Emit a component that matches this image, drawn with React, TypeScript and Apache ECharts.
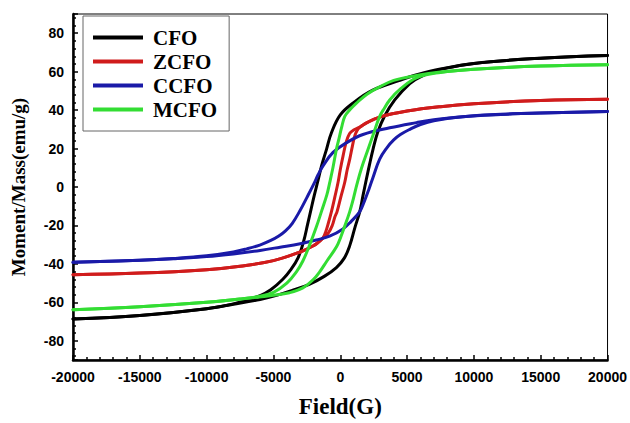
import React, { useEffect, useRef } from "react";
import * as echarts from "echarts";

const seriesNames = ["CFO", "ZCFO", "CCFO", "MCFO"];
const seriesColors = ["#000000", "#d01c1c", "#1a1aa8", "#33dd33"];

// Lower (ascending field) and upper (descending field) branches, [Field(G), Moment(emu/g)]
const cfoLower: [number, number][] = [
  [-20000, -68.7], [-15000, -66.8], [-10000, -63.3], [-8000, -61], [-6000, -58.5], [-4770, -56.4],
  [-3500, -53.5], [-2280, -50.5], [-1200, -46.5], [-290, -41.9], [300, -37], [710, -30.5], [1100, -21],
  [1460, -12.8], [1700, -4.5], [1960, 4.3], [2200, 12], [2450, 19.6], [2800, 28.5], [3300, 36.7],
  [4075, 45.3], [5200, 53.8], [6000, 57.3], [7500, 61.2], [10000, 64.3], [15000, 67], [20000, 68.4],
];
const cfoUpper: [number, number][] = [
  [20000, 68.4], [15000, 67], [10000, 64.3], [7500, 61.4], [5800, 58.5], [4450, 55.5], [2430, 50.4],
  [940, 43.6], [0, 37.5], [-660, 28.2], [-1030, 19.6], [-1400, 11], [-1680, 3], [-1950, -4.5],
  [-2200, -12], [-2450, -19.6], [-2750, -28.5], [-3150, -36.7], [-3700, -43], [-4300, -48],
  [-5200, -53.5], [-6000, -56.5], [-8000, -60.8], [-10000, -63.3], [-15000, -66.8], [-20000, -68.7],
];

const zcfoLower: [number, number][] = [
  [-20000, -45.6], [-15000, -44.8], [-10000, -43], [-7500, -41.2], [-5000, -38.3], [-3000, -33.8],
  [-2000, -30.5], [-1600, -28.5], [-1290, -26.5], [-900, -24], [-600, -20], [-400, -15.5],
  [-240, -12.8], [50, -5], [340, 2.6], [520, 9], [710, 14.5], [900, 21], [1080, 26.5], [1250, 29.3],
  [1460, 31], [2000, 33.5], [3000, 36.5], [5000, 39.5], [7500, 41.8], [10000, 43.3], [15000, 45],
  [20000, 45.6],
];
const zcfoUpper: [number, number][] = [
  [20000, 45.6], [15000, 45], [10000, 43.3], [7500, 41.8], [5000, 39.5], [3000, 36.5], [2000, 33.5],
  [1460, 31.2], [1000, 29.6], [700, 27.8], [450, 23.5], [210, 16.2], [0, 9], [-160, 2.6], [-400, -5],
  [-660, -12.8], [-900, -19], [-1100, -23.5], [-1290, -26.5], [-1600, -28.5], [-2000, -30.5],
  [-3000, -33.8], [-5000, -38.3], [-7500, -41.2], [-10000, -43], [-15000, -44.8], [-20000, -45.6],
];

const ccfoLower: [number, number][] = [
  [-20000, -39.2], [-15000, -38.1], [-12500, -37.3], [-10000, -36.2], [-8000, -34.8], [-6000, -33],
  [-4500, -31.3], [-3000, -29.5], [-1800, -27.6], [-800, -25.6], [200, -21.8], [800, -18],
  [1460, -12.8], [1800, -7.5], [2150, -1], [2450, 5], [2950, 14.5], [3500, 20.5], [4000, 24.5],
  [4500, 27.3], [5200, 30], [6000, 32.5], [7000, 34.5], [9160, 36.6], [12900, 38.1], [15000, 38.5],
  [20000, 39.3],
];
const ccfoUpper: [number, number][] = [
  [20000, 39.3], [15000, 38.5], [12900, 38.1], [9160, 36.6], [7000, 35], [5700, 33.5], [3700, 30.8],
  [1700, 27.3], [460, 23], [-540, 18], [-1290, 11], [-1650, 6.5], [-1950, 2], [-2500, -5.5],
  [-3030, -12.5], [-3600, -19], [-4100, -22.8], [-4600, -25.5], [-5200, -27.8], [-6020, -30.2],
  [-7000, -32.2], [-8000, -33.8], [-10000, -35.8], [-12500, -37.2], [-15000, -38.1], [-20000, -39.2],
];

const mcfoLower: [number, number][] = [
  [-20000, -63.8], [-15000, -62.3], [-10000, -60], [-7500, -58.3], [-5000, -56.3], [-3800, -55],
  [-2800, -52.5], [-2000, -48], [-1530, -44], [-1000, -38.5], [-500, -33.5], [-160, -29.5], [300, -21],
  [710, -12.8], [1000, -5.5], [1250, 1.5], [1600, 10], [2080, 19.6], [2500, 28], [2950, 36.7],
  [3300, 41], [3700, 45.3], [4500, 51], [5700, 56.8], [7500, 59.6], [10000, 61.3], [15000, 62.9],
  [20000, 63.6],
];
const mcfoUpper: [number, number][] = [
  [20000, 63.6], [15000, 62.9], [10000, 61.3], [7500, 59.8], [5700, 58], [4000, 55.5], [2950, 52.1],
  [2000, 48.3], [1210, 43.6], [700, 40], [340, 36.7], [100, 31], [-100, 25], [-290, 19.6],
  [-550, 10], [-800, 2], [-1000, -4], [-1410, -12.8], [-1800, -21], [-2280, -30], [-2800, -38.5],
  [-3270, -44], [-4000, -50], [-5000, -54.8], [-6000, -56.8], [-7500, -58.3], [-10000, -60],
  [-15000, -62.3], [-20000, -63.8],
];

const branches: [number, number][][][] = [
  [cfoLower, cfoUpper],
  [zcfoLower, zcfoUpper],
  [ccfoLower, ccfoUpper],
  [mcfoLower, mcfoUpper],
];

const serifFont = "'Liberation Serif', 'Times New Roman', serif";
const sansFont = "'Liberation Sans', Arial, sans-serif";

export default function App() {
  const ref = useRef<HTMLDivElement>(null);
  useEffect(() => {
    if (!ref.current) return;
    const chart = echarts.init(ref.current, null, { renderer: "svg" });
    const series: any[] = [];
    branches.forEach((pair, i) => {
      pair.forEach((data) => {
        series.push({
          type: "line",
          name: seriesNames[i],
          data,
          showSymbol: false,
          smooth: 0.4,
          lineStyle: { color: seriesColors[i], width: 3, cap: "round", join: "round" },
          itemStyle: { color: seriesColors[i] },
          z: 3,
        });
      });
    });
    chart.setOption({
      animation: false,
      backgroundColor: "#ffffff",
      grid: {
        left: 73,
        right: 22,
        top: 14,
        bottom: 58,
        show: true,
        borderColor: "#000",
        borderWidth: 1,
        containLabel: false,
      },
      legend: {
        data: seriesNames,
        orient: "vertical",
        left: 83,
        top: 16,
        padding: [11, 12, 11, 10],
        itemGap: 3,
        itemWidth: 50,
        itemHeight: 4,
        icon: "rect",
        borderColor: "#666",
        borderWidth: 1,
        backgroundColor: "#fff",
        textStyle: {
          fontFamily: serifFont,
          fontWeight: "bold",
          fontSize: 21,
          lineHeight: 20,
          color: "#000",
          padding: [0, 0, 0, 5],
        },
      },
      xAxis: {
        type: "value",
        min: -20000,
        max: 20000,
        interval: 5000,
        name: "Field(G)",
        nameLocation: "middle",
        nameGap: 35,
        nameTextStyle: { fontFamily: serifFont, fontWeight: "bold", fontSize: 23, color: "#000" },
        axisLine: { show: true, onZero: false, lineStyle: { color: "#000", width: 2.5 } },
        axisTick: { show: true, inside: true, length: 5, lineStyle: { color: "#000", width: 1.5 } },
        minorTick: { show: true, splitNumber: 5, length: 3, lineStyle: { color: "#000", width: 1.5 } },
        splitLine: { show: false },
        axisLabel: {
          margin: 10,
          fontFamily: sansFont,
          fontWeight: "bold",
          fontSize: 14,
          color: "#000",
          formatter: (v: number) => String(v),
        },
      },
      yAxis: {
        type: "value",
        min: -90,
        max: 90,
        splitNumber: 9,
        name: "Moment/Mass(emu/g)",
        nameLocation: "middle",
        nameGap: 45,
        nameTextStyle: { fontFamily: serifFont, fontWeight: "bold", fontSize: 19, color: "#000" },
        axisLine: { show: true, onZero: false, lineStyle: { color: "#000", width: 2.5 } },
        axisTick: { show: true, inside: true, length: 5, lineStyle: { color: "#000", width: 1.5 } },
        minorTick: { show: true, splitNumber: 5, length: 3, lineStyle: { color: "#000", width: 1.5 } },
        splitLine: { show: false },
        axisLabel: {
          margin: 9,
          showMinLabel: false,
          showMaxLabel: false,
          fontFamily: sansFont,
          fontWeight: "bold",
          fontSize: 14,
          color: "#000",
          formatter: (v: number) => (Math.abs(v) === 90 ? "" : String(v)),
        },
      },
      series,
    });
    return () => chart.dispose();
  }, []);
  return (
    <div
      ref={ref}
      style={{ position: "absolute", left: 0, top: 0, width: 630, height: 423 }}
    />
  );
}
